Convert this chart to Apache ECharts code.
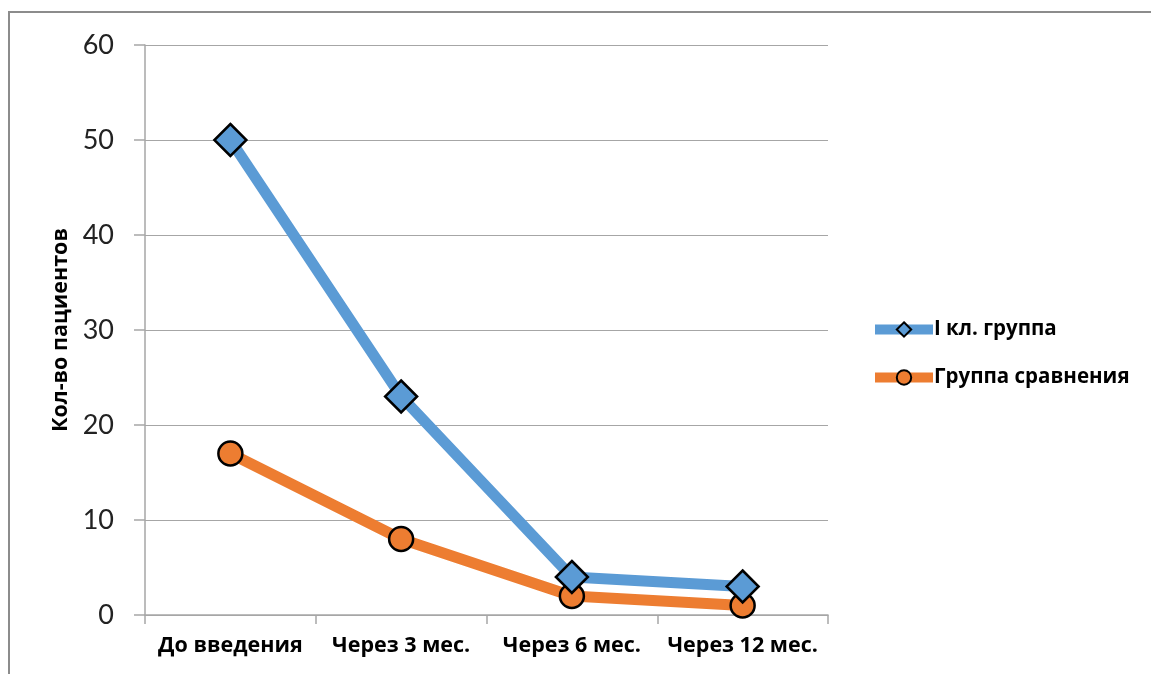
<!DOCTYPE html>
<html>
<head>
<meta charset="utf-8">
<script src="https://cdn.jsdelivr.net/npm/echarts@6/dist/echarts.min.js"></script>
<style>
  html, body { margin: 0; padding: 0; background: #fff; }
  #chart { width: 1151px; height: 674px; }
</style>
</head>
<body>
<div id="chart"></div>
<script>
// Patient counts over time after treatment start
const categories = ['До введения', 'Через 3 мес.', 'Через 6 мес.', 'Через 12 мес.'];
const groupOne = [50, 23, 4, 3];
const groupCompare = [17, 8, 2, 1];
const seriesNames = ['I кл. группа', 'Группа сравнения'];
const yAxisTitle = 'Кол-во пациентов';

const textFont = '"Open Sans", "Noto Sans", sans-serif';
const numFont = 'Lato, "Open Sans", sans-serif';

const chart = echarts.init(document.getElementById('chart'));
chart.setOption({
  animation: false,
  backgroundColor: '#fff',
  graphic: [{
    type: 'rect',
    shape: { x: 9, y: 12, width: 1160, height: 700 },
    style: { fill: 'none', stroke: '#8c8c8c', lineWidth: 2 },
    silent: true,
    z: 100
  }],
  grid: { left: 145, right: 323, top: 45, bottom: 59 },
  legend: {
    orient: 'vertical',
    left: 865,
    top: 314,
    itemWidth: 58,
    itemHeight: 18,
    itemGap: 27,
    lineStyle: { width: 10 },
    textStyle: { fontFamily: textFont, fontSize: 20.5, fontWeight: 'bold', color: '#000', padding: [0, 0, 0, -4] },
    data: seriesNames
  },
  xAxis: {
    type: 'category',
    data: categories,
    boundaryGap: true,
    axisLine: { lineStyle: { color: '#a6a6a6', width: 1.5 } },
    axisTick: { show: true, length: 9, inside: false, lineStyle: { color: '#a6a6a6', width: 1.5 } },
    axisLabel: {
      interval: 0,
      hideOverlap: false,
      fontFamily: textFont, fontSize: 21.5, fontWeight: 'bold', color: '#000', margin: 20
    }
  },
  yAxis: {
    type: 'value',
    min: 0,
    max: 60,
    interval: 10,
    name: yAxisTitle,
    nameLocation: 'middle',
    nameGap: 70,
    nameRotate: 90,
    nameTextStyle: { fontFamily: textFont, fontSize: 21.5, fontWeight: 'bold', color: '#000' },
    axisLine: { show: true, lineStyle: { color: '#a6a6a6', width: 1.5 } },
    axisTick: { show: true, length: 11, lineStyle: { color: '#a6a6a6', width: 1.5 } },
    splitLine: { lineStyle: { color: '#a6a6a6', width: 1.2 } },
    axisLabel: { fontFamily: numFont, fontSize: 27, color: '#222', margin: 31 }
  },
  series: [
    {
      name: seriesNames[0],
      type: 'line',
      data: groupOne,
      symbol: 'diamond',
      symbolSize: 32,
      lineStyle: { color: '#5b9bd5', width: 11 },
      itemStyle: { color: '#5b9bd5', borderColor: '#000', borderWidth: 2.5 },
      z: 3
    },
    {
      name: seriesNames[1],
      type: 'line',
      data: groupCompare,
      symbol: 'circle',
      symbolSize: 24,
      lineStyle: { color: '#ed7d31', width: 11 },
      itemStyle: { color: '#ed7d31', borderColor: '#000', borderWidth: 2.5 },
      z: 2
    }
  ]
});
</script>
</body>
</html>
